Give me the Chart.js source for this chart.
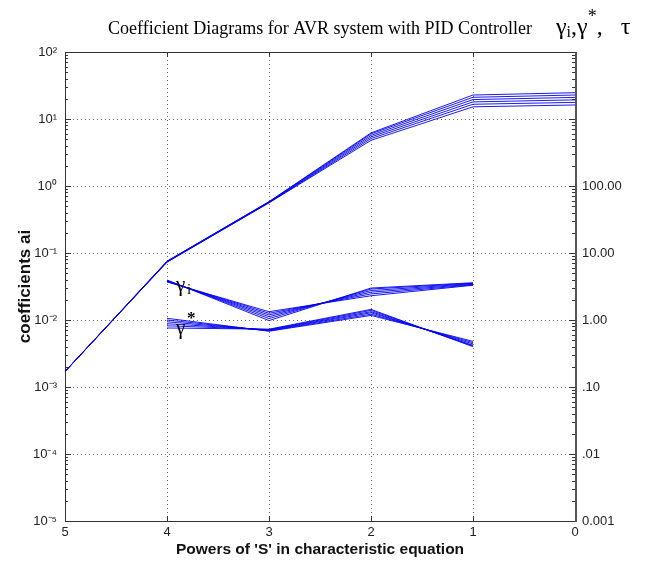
<!DOCTYPE html>
<html>
<head>
<meta charset="utf-8">
<script src="https://cdn.jsdelivr.net/npm/chart.js@4.4.0/dist/chart.umd.min.js"></script>
<style>
html, body { margin: 0; padding: 0; background: #fff; }
</style>
</head>
<body>
<canvas id="cdm-chart" width="651" height="563"></canvas>
<script>
// powers of s for the coefficient curves
var powers = [5, 4, 3, 2, 1, 0];
// coefficients ai, one row per controller setting
var coefRows = [
    [0.0017, 0.073, 0.56, 4.8, 15.2, 16.2],
    [0.0017, 0.0735, 0.565, 5.1, 16.6, 17.7],
    [0.0017, 0.074, 0.57, 5.4, 18.0, 19.3],
    [0.0017, 0.0745, 0.575, 5.7, 19.5, 21.0],
    [0.0017, 0.075, 0.58, 6.0, 21.1, 22.8],
    [0.0017, 0.0755, 0.585, 6.2, 22.8, 24.7]
];
// stability indices, plotted against the right axis
var gammaPowers = [4, 3, 2, 1];
var gammaIRows = [
    [3.70, 1.33, 2.30, 3.30],
    [3.75, 1.26, 2.45, 3.36],
    [3.80, 1.19, 2.60, 3.42],
    [3.85, 1.12, 2.75, 3.48],
    [3.90, 1.05, 2.90, 3.54],
    [3.95, 0.98, 3.00, 3.60]
];
var gammaStarRows = [
    [1.06, 0.68, 1.17, 0.48],
    [1.00, 0.69, 1.22, 0.46],
    [0.94, 0.70, 1.28, 0.44],
    [0.88, 0.71, 1.33, 0.42],
    [0.82, 0.72, 1.39, 0.41],
    [0.76, 0.73, 1.44, 0.40]
];
var leftDecades = [1e-5, 1e-4, 1e-3, 1e-2, 1e-1, 1, 10, 100];
var leftLabels = ['10\u207B\u2075', '10\u207B\u2074', '10\u207B\u00B3', '10\u207B\u00B2', '10\u207B\u00B9', '10\u2070', '10\u00B9', '10\u00B2'];
var rightTicks = [0.001, 0.01, 0.1, 1, 10, 100];
var rightLabels = ['0.001', '.01', '.10', '1.00', '10.00', '100.00'];

var lineBlue = 'rgba(0,0,240,0.9)';

function pts(xs, ys) {
    var out = [];
    for (var i = 0; i < xs.length; i++) out.push({ x: xs[i], y: ys[i] });
    return out;
}

var datasets = [];
coefRows.forEach(function (row) {
    datasets.push({ data: pts(powers, row), yAxisID: 'y', borderColor: lineBlue, borderWidth: 1, pointRadius: 0, fill: false });
});
gammaIRows.forEach(function (row) {
    datasets.push({ data: pts(gammaPowers, row), yAxisID: 'y2', borderColor: lineBlue, borderWidth: 1, pointRadius: 0, fill: false });
});
gammaStarRows.forEach(function (row) {
    datasets.push({ data: pts(gammaPowers, row), yAxisID: 'y2', borderColor: lineBlue, borderWidth: 1, pointRadius: 0, fill: false });
});

function findLabel(values, labels, v) {
    for (var i = 0; i < values.length; i++) {
        if (Math.abs(Math.log10(v) - Math.log10(values[i])) < 1e-6) return labels[i];
    }
    return '';
}

// dotted grid, box and inner tick marks like the matlab axes
var axesDeco = {
    id: 'axesDeco',
    beforeDatasetsDraw: function (chart) {
        var ctx = chart.ctx, a = chart.chartArea;
        var xs = chart.scales.x, ys = chart.scales.y;
        ctx.save();
        ctx.strokeStyle = '#666';
        ctx.lineWidth = 1;
        ctx.setLineDash([1, 3]);
        for (var e = -4; e <= 1; e++) {
            var py = Math.round(ys.getPixelForValue(Math.pow(10, e))) + 0.5;
            ctx.beginPath(); ctx.moveTo(a.left, py); ctx.lineTo(a.right, py); ctx.stroke();
        }
        for (var k = 1; k <= 4; k++) {
            var px = Math.round(xs.getPixelForValue(k)) + 0.5;
            ctx.beginPath(); ctx.moveTo(px, a.top); ctx.lineTo(px, a.bottom); ctx.stroke();
        }
        ctx.setLineDash([]);
        ctx.strokeStyle = '#333';
        // tick marks
        ctx.beginPath();
        for (var d = -5; d <= 1; d++) {
            for (var m = 1; m <= 9; m++) {
                var v = m * Math.pow(10, d);
                var y = Math.round(ys.getPixelForValue(v)) + 0.5;
                var len = m === 1 ? 6 : 3;
                ctx.moveTo(a.left, y); ctx.lineTo(a.left + len, y);
                ctx.moveTo(a.right, y); ctx.lineTo(a.right - len, y);
            }
        }
        for (var t = 1; t <= 4; t++) {
            var x = Math.round(xs.getPixelForValue(t)) + 0.5;
            ctx.moveTo(x, a.top); ctx.lineTo(x, a.top + 5);
            ctx.moveTo(x, a.bottom); ctx.lineTo(x, a.bottom - 5);
        }
        ctx.stroke();
        ctx.lineWidth = 1;
        ctx.strokeRect(Math.round(a.left) + 0.5, Math.round(a.top) + 0.5, Math.round(a.width), Math.round(a.height));
        ctx.lineWidth = 2;
        ctx.strokeStyle = '#555';
        ctx.beginPath(); ctx.moveTo(Math.round(a.right) + 1, a.top); ctx.lineTo(Math.round(a.right) + 1, a.bottom + 1); ctx.stroke();
        ctx.restore();
    },
    afterDraw: function (chart) {
        var ctx = chart.ctx;
        var xs = chart.scales.x;
        ctx.save();
        ctx.fillStyle = '#000';
        ctx.textBaseline = 'alphabetic';
        ctx.textAlign = 'center';
        ctx.font = '18px "Liberation Serif", "Times New Roman", serif';
        ctx.fillText('Coefficient Diagrams for AVR system with PID Controller', 320, 34);

        // gamma legend top right
        ctx.textAlign = 'left';
        var gx = 556, gy = 34;
        ctx.font = '24px "Liberation Serif", serif';
        ctx.fillText('\u03B3', gx, gy);
        gx += ctx.measureText('\u03B3').width;
        ctx.font = '16px "Liberation Serif", serif';
        ctx.fillText('i', gx, gy + 3);
        gx += ctx.measureText('i').width;
        ctx.font = '24px "Liberation Serif", serif';
        ctx.fillText(',\u03B3', gx, gy);
        gx += ctx.measureText(',\u03B3').width;
        ctx.font = '18px "Liberation Serif", serif';
        ctx.fillText('*', gx, gy - 12);
        gx += ctx.measureText('*').width;
        ctx.font = '24px "Liberation Serif", serif';
        ctx.fillText(',   \u03C4', gx, gy);

        // curve labels near s^4
        var x4 = xs.getPixelForValue(4);
        ctx.font = '21px "Liberation Serif", serif';
        ctx.fillText('\u03B3', x4 + 9, 291);
        ctx.font = '15px "Liberation Serif", serif';
        ctx.fillText('i', x4 + 20, 294);
        ctx.font = '21px "Liberation Serif", serif';
        ctx.fillText('\u03B3', x4 + 9, 334);
        ctx.font = 'bold 17px "Liberation Serif", serif';
        ctx.fillText('*', x4 + 20, 323);
        ctx.restore();
    }
};

var ctx = document.getElementById('cdm-chart').getContext('2d');
var cdmChart = new Chart(ctx, {
    type: 'line',
    data: { datasets: datasets },
    options: {
        responsive: false,
        animation: false,
        devicePixelRatio: 1,
        layout: { padding: { top: 52, left: 0, right: 0, bottom: 0 } },
        plugins: { legend: { display: false }, tooltip: { enabled: false } },
        elements: { line: { tension: 0 } },
        scales: {
            x: {
                type: 'linear',
                min: 0,
                max: 5,
                reverse: true,
                grid: { display: false, drawTicks: false },
                border: { display: false },
                ticks: {
                    stepSize: 1,
                    maxRotation: 0,
                    padding: 4,
                    color: '#222',
                    font: { family: '"Liberation Sans", Arial, sans-serif', size: 13 }
                },
                title: {
                    display: true,
                    text: "Powers of 'S' in characteristic equation",
                    color: '#111',
                    font: { family: '"Liberation Sans", Arial, sans-serif', size: 15.5, weight: 'bold' },
                    padding: { top: 0, bottom: 4 }
                },
                afterFit: function (s) { s.height = 42; }
            },
            y: {
                type: 'logarithmic',
                position: 'left',
                min: 1e-5,
                max: 100,
                grid: { display: false, drawTicks: false },
                border: { display: false },
                ticks: {
                    autoSkip: false,
                    padding: 8,
                    color: '#222',
                    font: { family: '"Liberation Sans", Arial, sans-serif', size: 13 },
                    callback: function (v) { return findLabel(leftDecades, leftLabels, v); }
                },
                title: {
                    display: true,
                    text: 'coefficients ai',
                    color: '#111',
                    font: { family: '"Liberation Sans", Arial, sans-serif', size: 17, weight: 'bold' },
                    padding: { top: 15, bottom: 0 }
                },
                afterFit: function (s) { s.width = 65; }
            },
            y2: {
                type: 'logarithmic',
                position: 'right',
                min: 0.001,
                max: 10000,
                grid: { display: false, drawTicks: false },
                border: { display: false },
                ticks: {
                    autoSkip: false,
                    padding: 7,
                    color: '#222',
                    font: { family: '"Liberation Sans", Arial, sans-serif', size: 13 },
                    callback: function (v) { return findLabel(rightTicks, rightLabels, v); }
                },
                afterFit: function (s) { s.width = 76; }
            }
        }
    },
    plugins: [axesDeco]
});
</script>
</body>
</html>
